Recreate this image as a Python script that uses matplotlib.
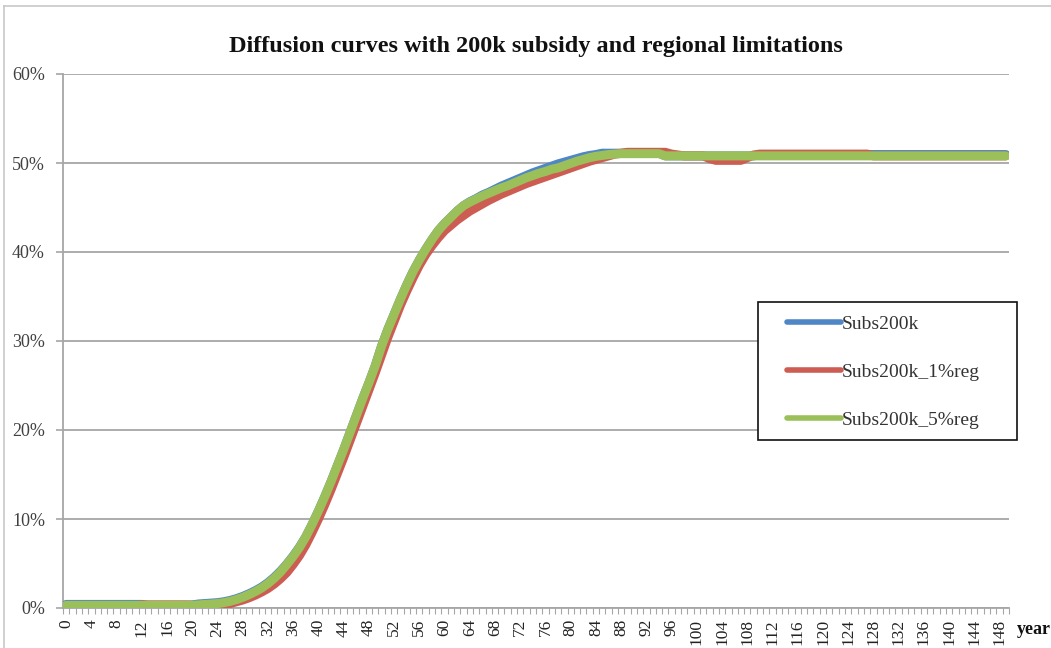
import matplotlib
matplotlib.use("Agg")
import matplotlib.pyplot as plt
from matplotlib.lines import Line2D
import numpy as np

plt.rcParams["font.family"] = ["Liberation Serif", "DejaVu Serif"]

years = list(range(150))

# share of adopters (%)
subs200k = (
    [0.4] * 13 + [0.3] * 7
    + [0.35, 0.45, 0.5, 0.55, 0.6, 0.7, 0.85, 1.05, 1.3, 1.6,
       1.95, 2.35, 2.85, 3.45, 4.15, 4.95, 5.85, 6.85, 8.0, 9.4,
       10.9, 12.5, 14.2, 16.0, 17.8, 19.7, 21.6, 23.5, 25.3, 27.2,
       29.4, 31.3, 33.0, 34.7, 36.3, 37.8, 39.1, 40.3, 41.4, 42.4,
       43.2, 43.9, 44.6, 45.2, 45.65, 46.0, 46.4, 46.7, 47.05, 47.4,
       47.7, 48.0, 48.3, 48.6, 48.9, 49.15, 49.4, 49.65, 49.9, 50.1,
       50.3, 50.5, 50.7, 50.85, 50.95]
    + [51.1] * 10 + [50.8] * 15 + [50.95] * 40
)

subs200k_1reg = (
    [0.25] * 12 + [0.35] * 8
    + [0.3, 0.25, 0.25, 0.25, 0.3, 0.35, 0.5, 0.7, 0.9, 1.15,
       1.45, 1.8, 2.2, 2.7, 3.3, 4.0, 4.9, 5.9, 7.1, 8.5,
       10.0, 11.6, 13.3, 15.1, 16.9, 18.8, 20.7, 22.6, 24.5, 26.4,
       28.4, 30.4, 32.2, 34.0, 35.6, 37.1, 38.5, 39.7, 40.7, 41.6,
       42.4, 43.0, 43.6, 44.1, 44.6, 45.0, 45.4, 45.8, 46.15, 46.5,
       46.8, 47.1, 47.4, 47.7, 47.95, 48.2, 48.45, 48.7, 48.95, 49.2,
       49.45, 49.7, 49.95, 50.2, 50.4, 50.6, 50.8, 51.0, 51.1]
    + [51.2] * 7 + [51.0, 50.9, 50.8, 50.8, 50.8, 50.8, 50.5]
    + [50.3] * 5 + [50.6, 50.9] + [51.0] * 18 + [50.8] * 22
)

subs200k_5reg = (
    [0.3] * 21
    + [0.35, 0.4, 0.45, 0.5, 0.6, 0.75, 0.95, 1.2, 1.5,
       1.85, 2.25, 2.75, 3.35, 4.05, 4.9, 5.8, 6.8, 8.0, 9.4,
       10.9, 12.5, 14.2, 16.0, 17.8, 19.7, 21.6, 23.5, 25.3, 27.2,
       29.4, 31.3, 33.0, 34.7, 36.3, 37.8, 39.1, 40.3, 41.4, 42.4,
       43.2, 43.9, 44.6, 45.2, 45.6, 45.95, 46.3, 46.6, 46.9, 47.2,
       47.45, 47.75, 48.05, 48.35, 48.6, 48.85, 49.05, 49.3, 49.45, 49.7,
       49.95, 50.2, 50.4, 50.6, 50.75, 50.85, 50.95, 51.0]
    + [51.05] * 7 + [50.8] * 55
)

series = [
    ("Subs200k", subs200k, "#4F86C6"),
    ("Subs200k_1%reg", subs200k_1reg, "#CD5C52"),
    ("Subs200k_5%reg", subs200k_5reg, "#9BC05A"),
]

W, H = 1051, 648
fig = plt.figure(figsize=(W / 100, H / 100), dpi=100)
ax = fig.add_axes([63 / W, 1 - 608 / H, (1009 - 63) / W, (608 - 74) / H])

for name, vals, col in series:
    ax.plot(years, np.array(vals) / 100, color=col, lw=6.5,
            solid_capstyle="round", solid_joinstyle="round", label=name, zorder=3)

ax.set_xlim(-0.5, 149.5)
ax.set_ylim(0, 0.6)

ax.set_yticks(np.arange(0, 0.61, 0.1))
ax.set_yticklabels([f"{int(round(v * 100))}%" for v in np.arange(0, 0.61, 0.1)])
ax.yaxis.grid(True, color="#a6a6a6", lw=1.3, zorder=1)
ax.tick_params(axis="y", length=5, width=1.2, color="#a6a6a6", pad=8,
               labelsize=13, labelcolor="#404040")

ax.set_xticks(years[::4])
ax.set_xticklabels([str(y) for y in years[::4]], rotation=90)
ax.set_xticks(np.arange(-0.5, 150, 1), minor=True)
ax.tick_params(axis="x", which="major", length=0, pad=8,
               labelsize=12.5, labelcolor="#222222")
ax.tick_params(axis="x", which="minor", length=4, width=0.8, color="#a6a6a6")

for side in ["top", "right"]:
    ax.spines[side].set_visible(False)
for side in ["left", "bottom"]:
    ax.spines[side].set_color("#a6a6a6")
    ax.spines[side].set_linewidth(1.3)

ax.set_title("Diffusion curves with 200k subsidy and regional limitations",
             fontsize=17.5, fontweight="bold", pad=16, color="#111111")

fig.text(1017 / W, 1 - 630 / H, "year", fontsize=13, fontweight="bold",
         ha="left", va="center", color="#111111")

# outer chart border (top and left edges visible)
fig.add_artist(Line2D([4 / W, 1.0], [1 - 6 / H, 1 - 6 / H],
                      transform=fig.transFigure, color="#c8c8c8", lw=1.2))
fig.add_artist(Line2D([4 / W, 4 / W], [0.0, 1 - 6 / H],
                      transform=fig.transFigure, color="#c8c8c8", lw=1.2))

# legend box
fig.add_artist(plt.Rectangle((758 / W, 1 - 440 / H), (1017 - 758) / W, (440 - 302) / H,
                             transform=fig.transFigure, fill=True, facecolor="white",
                             edgecolor="#111111", lw=1.2, zorder=5))
leg = fig.legend(loc="upper left", bbox_to_anchor=(787 / W, 1 - 315 / H),
                 frameon=False, fontsize=14, handlelength=2.8, handletextpad=0.02,
                 labelspacing=1.58, borderpad=0, borderaxespad=0)
leg.set_zorder(6)
for text in leg.get_texts():
    text.set_color("#333333")
for line in leg.get_lines():
    line.set_linewidth(4.0)

fig.savefig("out.png", dpi=100)
